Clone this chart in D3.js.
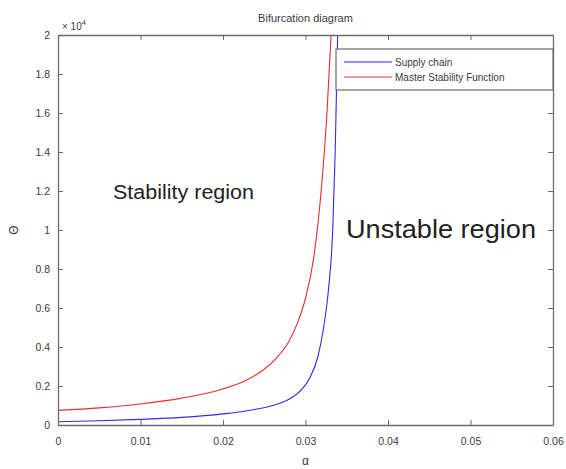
<!DOCTYPE html>
<html><head><meta charset="utf-8">
<script src="https://cdn.jsdelivr.net/npm/d3@7"></script>
<style>body{margin:0;background:#fff}svg{display:block}text{font-family:"Liberation Sans",Arial,sans-serif}</style>
</head><body><svg id="c" width="566" height="469"></svg>
<script>
// Data (Θ in units of 1e4)
const xTicks = [0, 0.01, 0.02, 0.03, 0.04, 0.05, 0.06];
const xTickLabels = ["0", "0.01", "0.02", "0.03", "0.04", "0.05", "0.06"];
const yTicks = [0, 0.2, 0.4, 0.6, 0.8, 1, 1.2, 1.4, 1.6, 1.8, 2];
const yTickLabels = ["0", "0.2", "0.4", "0.6", "0.8", "1", "1.2", "1.4", "1.6", "1.8", "2"];
const supplyAlpha = [0, 0.005, 0.01, 0.015, 0.02, 0.0235, 0.026, 0.028, 0.0295, 0.0305, 0.0315, 0.0322, 0.0328, 0.0333, 0.0336, 0.0339];
const supplyTheta = [0.017, 0.022, 0.029, 0.039, 0.057, 0.077, 0.1, 0.132, 0.18, 0.24, 0.35, 0.5, 0.7, 1.0, 1.4, 2.0];
const msfAlpha = [0, 0.005, 0.01, 0.015, 0.02, 0.0225, 0.025, 0.0265, 0.028, 0.029, 0.030, 0.031, 0.032, 0.0326, 0.0331];
const msfTheta = [0.075, 0.088, 0.108, 0.138, 0.185, 0.223, 0.286, 0.344, 0.43, 0.52, 0.65, 0.86, 1.25, 1.6, 2.0];
const seriesNames = ["Supply chain", "Master Stability Function"];
const seriesColors = ["#2b2bf0", "#f02b2b"];

const svg = d3.select("#c");
const L = 58, R = 553, T = 35, B = 425;
const x = d3.scaleLinear().domain([0, 0.06]).range([L, R]);
const y = d3.scaleLinear().domain([0, 2]).range([B, T]);
const axisColor = "#6a6a6a", textColor = "#3a3a3a";

svg.append("clipPath").attr("id", "pc").append("rect")
  .attr("x", L).attr("y", T).attr("width", R - L).attr("height", B - T);

// curves
const line = d3.line().x(d => x(d[0])).y(d => y(d[1])).curve(d3.curveMonotoneX);
const series = [
  supplyAlpha.map((a, i) => [a, supplyTheta[i]]),
  msfAlpha.map((a, i) => [a, msfTheta[i]])
];
series.forEach((s, i) => {
  svg.append("path").attr("d", line(s)).attr("fill", "none")
    .attr("stroke", seriesColors[i]).attr("stroke-width", 1.1).attr("clip-path", "url(#pc)");
});

// axes (box with inward ticks)
const fmtX = (d, i) => xTickLabels[i];
const fmtY = (d, i) => yTickLabels[i];
const gB = svg.append("g").attr("transform", `translate(0,${B})`)
  .call(d3.axisBottom(x).tickValues(xTicks).tickFormat(fmtX).tickSizeInner(-5).tickSizeOuter(0).tickPadding(13));
const gT = svg.append("g").attr("transform", `translate(0,${T})`)
  .call(d3.axisTop(x).tickValues(xTicks).tickFormat("").tickSizeInner(-5).tickSizeOuter(0));
const gL = svg.append("g").attr("transform", `translate(${L},0)`)
  .call(d3.axisLeft(y).tickValues(yTicks).tickFormat(fmtY).tickSizeInner(-5).tickSizeOuter(0).tickPadding(8));
const gR = svg.append("g").attr("transform", `translate(${R},0)`)
  .call(d3.axisRight(y).tickValues(yTicks).tickFormat("").tickSizeInner(-5).tickSizeOuter(0));
[gB, gT, gL, gR].forEach(g => {
  g.selectAll("path").attr("stroke", axisColor).attr("stroke-width", 1.3);
  g.selectAll("line").attr("stroke", axisColor);
  g.selectAll("text").attr("fill", textColor).attr("font-size", 10.5).attr("font-family", "Liberation Sans, Arial, sans-serif");
});

// exponent label
const ex = svg.append("text").attr("x", L + 4).attr("y", T - 5).attr("fill", textColor).attr("font-size", 10);
ex.append("tspan").text("× 10");
ex.append("tspan").attr("dy", -5).attr("font-size", 7.5).text("4");

// title and axis labels
svg.append("text").attr("x", (L + R) / 2).attr("y", 22).attr("text-anchor", "middle")
  .attr("fill", textColor).attr("font-size", 11).text("Bifurcation diagram");
svg.append("text").attr("x", (L + R) / 2).attr("y", 465).attr("text-anchor", "middle")
  .attr("fill", textColor).attr("font-size", 12).text("α");
svg.append("text").attr("transform", `translate(18,${(T + B) / 2}) rotate(-90)`).attr("text-anchor", "middle")
  .attr("fill", textColor).attr("font-size", 12).text("Θ");

// region annotations
svg.append("text").attr("x", 113).attr("y", 199).attr("fill", "#222").attr("font-size", 20)
  .attr("textLength", 141).attr("lengthAdjust", "spacingAndGlyphs").text("Stability region");
svg.append("text").attr("x", 346).attr("y", 238).attr("fill", "#222").attr("font-size", 26)
  .attr("textLength", 190).attr("lengthAdjust", "spacingAndGlyphs").text("Unstable region");

// legend
const lg = svg.append("g");
lg.append("rect").attr("x", 336).attr("y", 49).attr("width", R - 336).attr("height", 41)
  .attr("fill", "#fff").attr("stroke", axisColor).attr("stroke-width", 1.2);
seriesNames.forEach((n, i) => {
  const yy = 62 + i * 15;
  lg.append("line").attr("x1", 344).attr("x2", 392).attr("y1", yy).attr("y2", yy)
    .attr("stroke", seriesColors[i]).attr("stroke-width", 1.1);
  lg.append("text").attr("x", 395).attr("y", yy + 3.5).attr("fill", textColor).attr("font-size", 10).text(n);
});
</script></body></html>
